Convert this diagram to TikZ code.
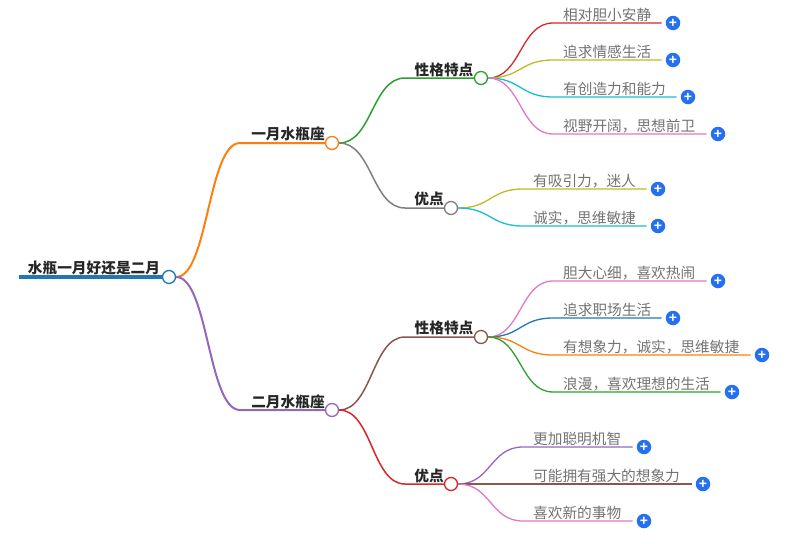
\documentclass[tikz,border=0pt]{standalone}
\usepackage{fontspec}
\usepackage{xcolor}
\setmainfont{Noto Sans CJK SC}
\newfontfamily\plusfont{Liberation Sans}
\definecolor{mmblue}{HTML}{1F77B4}
\definecolor{mmorange}{HTML}{FF7F0E}
\definecolor{mmgreen}{HTML}{2CA02C}
\definecolor{mmred}{HTML}{D62728}
\definecolor{mmpurple}{HTML}{9467BD}
\definecolor{mmbrown}{HTML}{8C564B}
\definecolor{mmpink}{HTML}{E377C2}
\definecolor{mmgray}{HTML}{7F7F7F}
\definecolor{mmolive}{HTML}{BCBD22}
\definecolor{mmcyan}{HTML}{17BECF}
\definecolor{mmplus}{HTML}{2470F0}
\tikzset{
  dotnode/.style={circle, draw=#1, fill=white, line width=1.3pt, minimum size=13pt, inner sep=0pt},
  titlenode/.style={font=\fontsize{14.67pt}{16pt}\selectfont\bfseries, text=black!85, inner sep=0pt},
  leaftext/.style={font=\fontsize{14.67pt}{16pt}\selectfont, text=black!55, inner sep=0pt, anchor=west},
  plusnode/.style={circle, fill=mmplus, text=white, minimum size=14.5pt, inner sep=0pt, font=\plusfont\bfseries\fontsize{14pt}{14pt}\selectfont},
}
\begin{document}
\begin{tikzpicture}[x=1pt, y=-1pt]
  \useasboundingbox (0,0) rectangle (788,544);
  % Branch dots, then their labels
  \node[dotnode=mmblue] (root) at (169,277) {};
  \node[dotnode=mmorange] (janbig) at (332,143) {};
  \node[dotnode=mmpurple] (febbig) at (332,410) {};
  \node[dotnode=mmgreen] (jantrait) at (481,78) {};
  \node[dotnode=mmgray] (jangood) at (451,208) {};
  \node[dotnode=mmbrown] (febtrait) at (481,337) {};
  \node[dotnode=mmred] (febgood) at (451,484) {};
  \node[titlenode] (roottext) at (94,268) {水瓶一月好还是二月};
  \node[titlenode] (janbigtext) at (288,134) {一月水瓶座};
  \node[titlenode] (febbigtext) at (288,402) {二月水瓶座};
  \node[titlenode] (jantraittext) at (444,70) {性格特点};
  \node[titlenode] (jangoodtext) at (429,199) {优点};
  \node[titlenode] (febtraittext) at (444,328) {性格特点};
  \node[titlenode] (febgoodtext) at (429,476) {优点};
  % Root line and main branches
  \coordinate (rootstart) at (19,277);
  \draw[line width=4pt, mmblue] (rootstart) -- (root.west);
  \coordinate (kneejan) at (240,143);
  \coordinate (kneefeb) at (240,410);
  \draw[line width=2pt, mmorange] (root.east) .. controls +(32,0) and +(-32,0) .. (kneejan) -- (janbig.west);
  \draw[line width=2pt, mmpurple] (root.east) .. controls +(32,0) and +(-32,0) .. (kneefeb) -- (febbig.west);
  % Second level branches
  \foreach \p/\n/\x/\y/\c in {
    janbig/jantrait/405/78/mmgreen,
    janbig/jangood/405/208/mmgray,
    febbig/febtrait/405/337/mmbrown,
    febbig/febgood/405/484/mmred} {
    \coordinate (knee\n) at (\x,\y);
    \draw[line width=1.5pt, \c] (\p.east) .. controls +(33,0) and +(-33,0) .. (knee\n) -- (\n.west);
  }
  % Leaves with their plus buttons
  \foreach \p/\n/\tx/\y/\px/\c/\t in {
    jantrait/a/563/23/673/mmred/相对胆小安静,
    jantrait/b/563/60/673/mmolive/追求情感生活,
    jantrait/c/563/97/688/mmcyan/有创造力和能力,
    jantrait/d/563/134/718/mmpink/视野开阔，思想前卫,
    jangood/e/533/189/658/mmolive/有吸引力，迷人,
    jangood/f/533/226/658/mmcyan/诚实，思维敏捷,
    febtrait/g/563/281/718/mmpink/胆大心细，喜欢热闹,
    febtrait/h/563/318/673/mmblue/追求职场生活,
    febtrait/i/563/355/762/mmorange/有想象力，诚实，思维敏捷,
    febtrait/j/563/392/732/mmgreen/浪漫，喜欢理想的生活,
    febgood/k/533/447/644/mmpurple/更加聪明机智,
    febgood/l/533/484/703/mmbrown/可能拥有强大的想象力,
    febgood/m/533/521/644/mmpink/喜欢新的事物} {
    \pgfmathsetmacro\kx{\tx-10}
    \coordinate (knee\n) at (\kx,\y);
    \node[plusnode] (plus\n) at (\px,\y) {+};
    \node[leaftext] (leaf\n) at (\tx,\y-8) {\t};
    \draw[line width=1.3pt, \c, shorten >=4pt] (\p.east) .. controls +(33,0) and +(-33,0) .. (knee\n) -- (plus\n.west);
  }
\end{tikzpicture}
\end{document}
